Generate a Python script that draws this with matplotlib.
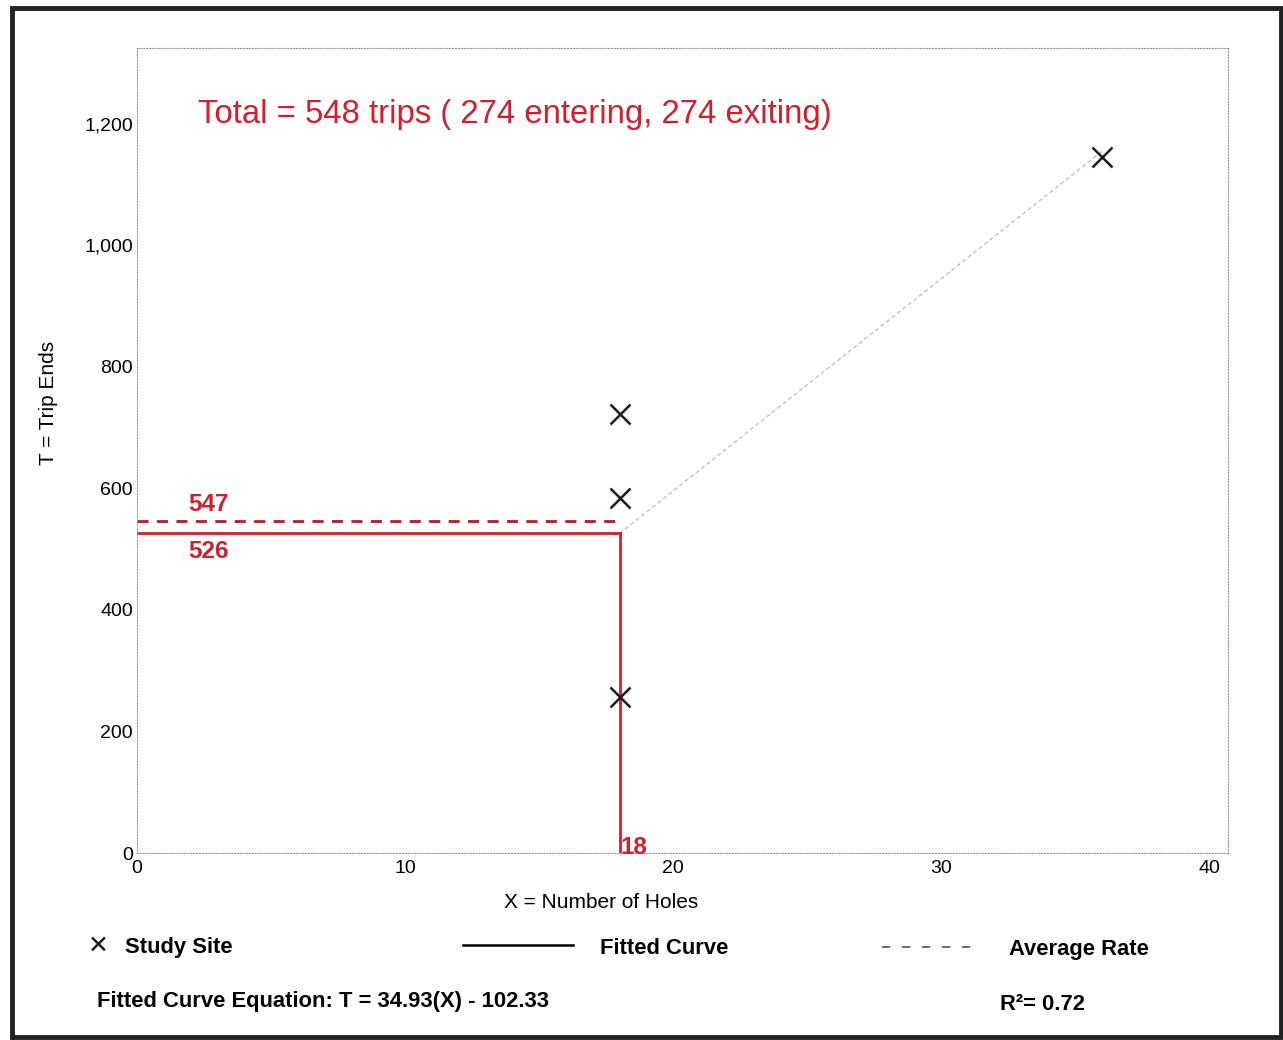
import matplotlib.pyplot as plt
import matplotlib.ticker as mtick
from matplotlib.patches import Rectangle

plt.rcParams['font.family'] = ['Liberation Sans', 'DejaVu Sans']

# study sites
holes = [18, 18, 18, 36]
trips = [723, 584, 257, 1145]

# fitted curve and average rate, as drawn
fit_x = [18, 36]
fit_y = [526, 1155]
site_x = 18
fit_at_site = 526
avg_at_site = 547

x_ticks = [0, 10, 20, 30, 40]
y_ticks = [0, 200, 400, 600, 800, 1000, 1200]

red = '#d21f2f'

fig = plt.figure(figsize=(12.83, 10.4), dpi=100)
ax = fig.add_axes([137 / 1283, 1 - 853 / 1040, 1091 / 1283, 805 / 1040])

ax.set_xlim(0, 40.7)
ax.set_ylim(0, 1325)
ax.set_xticks(x_ticks)
ax.set_yticks(y_ticks)
ax.yaxis.set_major_formatter(mtick.StrMethodFormatter('{x:,.0f}'))
ax.tick_params(length=0, labelsize=14)
ax.tick_params(axis='y', pad=3)
ax.tick_params(axis='x', pad=5)

for s in ax.spines.values():
    s.set_linestyle(':')
    s.set_color('#9a9a9a')
    s.set_linewidth(0.8)

# faint fitted line beyond the site
ax.plot(fit_x, fit_y, color='#a8a8a8', lw=1.0, ls=(0, (3, 2)), alpha=0.7)

# fitted curve value at the study size
ax.plot([0, site_x], [fit_at_site, fit_at_site], color=red, lw=2)
ax.plot([site_x, site_x], [fit_at_site, 0], color=red, lw=2)
# average rate value
ax.plot([0, site_x], [avg_at_site, avg_at_site], color='#b01c28', lw=2, ls=(0, (4, 3)))

ax.plot(holes, trips, 'x', color='#1a1a1a', ms=14, mew=1.8)

ax.text(1.9, avg_at_site + 7, str(avg_at_site), color=red, fontsize=17.5, fontweight='bold', va='bottom')
ax.text(1.9, fit_at_site - 10, str(fit_at_site), color=red, fontsize=17.5, fontweight='bold', va='top')
ax.text(site_x + 0.03, -10, str(site_x), color=red, fontsize=17.5, fontweight='bold', va='bottom')

ax.text(0.056, 0.917, 'Total = 548 trips ( 274 entering, 274 exiting)', transform=ax.transAxes,
        color=red, fontsize=23.7, va='center')

ax.set_xlabel('X = Number of Holes', fontsize=15)
ax.set_ylabel('T = Trip Ends', fontsize=15)
ax.xaxis.set_label_coords((601 - 137) / 1091, (853 - 902) / 805)
ax.yaxis.set_label_coords((48 - 137) / 1091, (853 - 403) / 805)
ax.xaxis.label.set_va('center')
ax.yaxis.label.set_va('center')

# legend row
fig.text(98 / 1283, 1 - 946 / 1040, '✕', fontsize=18, ha='center', va='center', color='#1a1a1a')
fig.text(125 / 1283, 1 - 947 / 1040, 'Study Site', fontsize=15.8, fontweight='bold', va='center')
fig.add_artist(plt.Line2D([463 / 1283, 573 / 1283], [1 - 945 / 1040] * 2, color='black', lw=1.8))
fig.text(600 / 1283, 1 - 949 / 1040, 'Fitted Curve', fontsize=15.8, fontweight='bold', va='center')
fig.add_artist(plt.Line2D([882 / 1283, 975 / 1283], [1 - 947 / 1040] * 2, color='#555555', lw=1.2,
                          ls=(0, (5, 7))))
fig.text(1009 / 1283, 1 - 950 / 1040, 'Average Rate', fontsize=15.8, fontweight='bold', va='center')

fig.text(97 / 1283, 1 - 1002 / 1040, 'Fitted Curve Equation: T = 34.93(X) - 102.33', fontsize=15.8,
         fontweight='bold', va='center')
fig.text(1000 / 1283, 1 - 1004 / 1040, 'R²= 0.72', fontsize=15.8, fontweight='bold', va='center')

# outer frame
fig.add_artist(Rectangle((12 / 1283, 1 - 1037 / 1040), 1269 / 1283, 1029 / 1040,
                         transform=fig.transFigure, fill=False, edgecolor='#222222', lw=3.5))

fig.savefig('out.png', dpi=100)
